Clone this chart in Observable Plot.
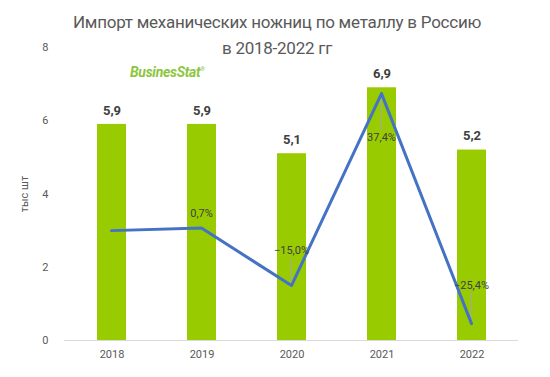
<!DOCTYPE html>
<html><head><meta charset="utf-8">
<script src="https://cdn.jsdelivr.net/npm/d3@7"></script>
<script src="https://cdn.jsdelivr.net/npm/@observablehq/plot@0.6"></script>
<style>
body{margin:0;background:#fff;font-family:Roboto,"Open Sans",sans-serif;}
#wrap{position:relative;width:550px;height:377px;overflow:hidden;}
#wrap svg{position:absolute;left:0;top:0;}
#title{position:absolute;left:0;top:9px;width:554px;text-align:center;font-size:17px;letter-spacing:-0.25px;line-height:26px;color:#595959;z-index:3;}
#logo{position:absolute;left:130px;top:64px;font-size:14px;font-weight:bold;font-style:italic;color:#8cc63e;z-index:3;letter-spacing:-0.3px;}
#logo sup{font-size:6px;font-weight:normal;}
</style></head>
<body>
<div id="wrap">
<div id="title">Импорт механических ножниц по металлу в Россию<br>в 2018-2022 гг</div>
<div id="logo">BusinesStat<sup>®</sup></div>
</div>
<script>
const years = ["2018","2019","2020","2021","2022"];
const imports = [5.9, 5.9, 5.1, 6.9, 5.2];
const growth = [0, 0.7, -15.0, 37.4, -25.4];
const yTicks = [0, 2, 4, 6, 8];

const bars = years.map((y, i) => ({year: y, value: imports[i]}));
const line = years.map((y, i) => ({year: y, g: growth[i]}));
const fmt1 = v => d3.format(".1f")(v).replace(".", ",");

const W = 550, H = 377;
const M = {marginLeft: 64, marginRight: 32, marginTop: 47, marginBottom: 37};
const xOpts = {domain: years, paddingInner: 0.68, paddingOuter: 0.34, label: null, tickSize: 0, tickPadding: 10};

const main = Plot.plot({
  width: W, height: H, ...M,
  style: {fontFamily: "Roboto, sans-serif", fontSize: "11px", color: "#595959", background: "transparent"},
  x: xOpts,
  y: {domain: [0, 8], ticks: yTicks, tickSize: 0, tickPadding: 16, label: "тыс шт", labelArrow: "none", labelAnchor: "center", labelOffset: 44},
  marks: [
    Plot.barY(bars, {x: "year", y: "value", fill: "#99cc00"}),
    Plot.ruleY([0], {stroke: "#d9d9d9", strokeWidth: 1}),
    Plot.text(bars, {x: "year", y: "value", text: d => fmt1(d.value), dy: -14, fill: "#404040", fontWeight: "bold", fontSize: 13})
  ]
});

const leader = {draw(ctx, l) { ctx.moveTo(0, 0); ctx.lineTo(0, -l); }};
const lbl = (yr, dy) => Plot.text(line.filter(d => d.year === yr), {x: "year", y: "g", text: d => fmt1(d.g) + "%", dy, fill: "#404040", fontSize: 11});

const over = Plot.plot({
  width: W, height: H, ...M,
  style: {fontFamily: "Roboto, sans-serif", fontSize: "11px", background: "transparent"},
  x: {...xOpts, axis: null},
  y: {domain: [-30, 50], axis: null},
  marks: [
    Plot.vector(line.filter(d => d.year === "2020"), {x: "year", y: "g", length: 27, anchor: "start", rotate: 0, shape: leader, stroke: "#a6a6a6", strokeWidth: 1}),
    Plot.vector(line.filter(d => d.year === "2021"), {x: "year", y: "g", length: 36, anchor: "start", rotate: 180, shape: leader, stroke: "#a6a6a6", strokeWidth: 1}),
    Plot.vector(line.filter(d => d.year === "2022"), {x: "year", y: "g", length: 31, anchor: "start", rotate: 0, shape: leader, stroke: "#a6a6a6", strokeWidth: 1}),
    Plot.line(line, {x: "year", y: "g", stroke: "#4472c4", strokeWidth: 3}),
    lbl("2019", -15),
    lbl("2020", -35),
    lbl("2021", 44),
    lbl("2022", -38)
  ]
});

const wrap = document.getElementById("wrap");
wrap.appendChild(main);
wrap.appendChild(over);
</script>
</body></html>
